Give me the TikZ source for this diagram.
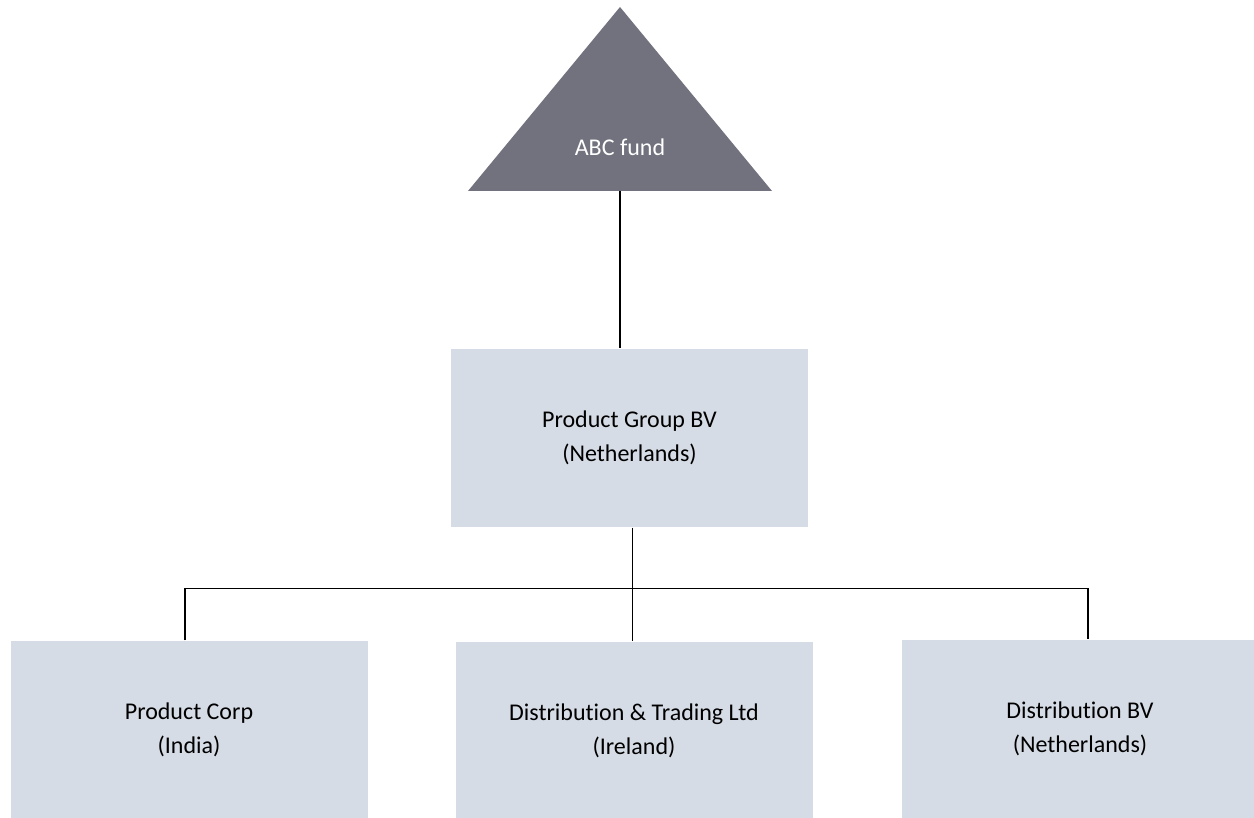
\documentclass[tikz,border=0pt]{standalone}
\usepackage{fontspec}
\setmainfont[Ligatures={NoCommon}]{Carlito}
\definecolor{fundgray}{HTML}{72727F}
\definecolor{boxblue}{HTML}{D6DCE5}
\tikzset{every picture/.style={line width=0.6pt}}
\tikzset{entity/.style={fill=boxblue, minimum width=178.5pt, minimum height=89pt, inner sep=0pt, align=center, font=\fontsize{12}{17}\selectfont}}

\begin{document}
\begin{tikzpicture}[x=0.5pt,y=0.5pt,yscale=-1,xscale=1]
	\clip (0,0) rectangle (1254,818);
	
	%Shape: Triangle [id:fund]
	\fill [fundgray] (620,7) -- (772,191) -- (468,191) -- cycle ;
	\coordinate (fundbase) at (620,191);
	% Text Node
	\node (fund) [text=white, inner sep=0.75pt, font=\fontsize{12}{17}\selectfont] at (620,147) {ABC fund};
	
	%Shape: Rectangle [id:holding]
	\node (pg) [entity] at (629.5,438) {Product Group BV\\(Netherlands)};
	%Shape: Rectangle [id:subs]
	\node (corp) [entity] at (189,730) {Product Corp\\(India)};
	\node (dt) [entity] at (634,730.5) {Distribution \& Trading Ltd\\(Ireland)};
	\node (dbv) [entity] at (1080,729) {Distribution BV\\(Netherlands)};
	
	%Straight Lines
	\coordinate (bus) at (632.7,588.5);
	\coordinate (busL) at (185,588.5);
	\coordinate (busR) at (1088,588.5);
	\draw (fundbase) -- (fundbase |- pg.north) ;
	\draw (pg.south -| bus) -- (bus |- dt.north) ;
	\draw (busL |- corp.north) -- (busL) -- (busR) -- (busR |- dbv.north) ;
	
\end{tikzpicture}
\end{document}
